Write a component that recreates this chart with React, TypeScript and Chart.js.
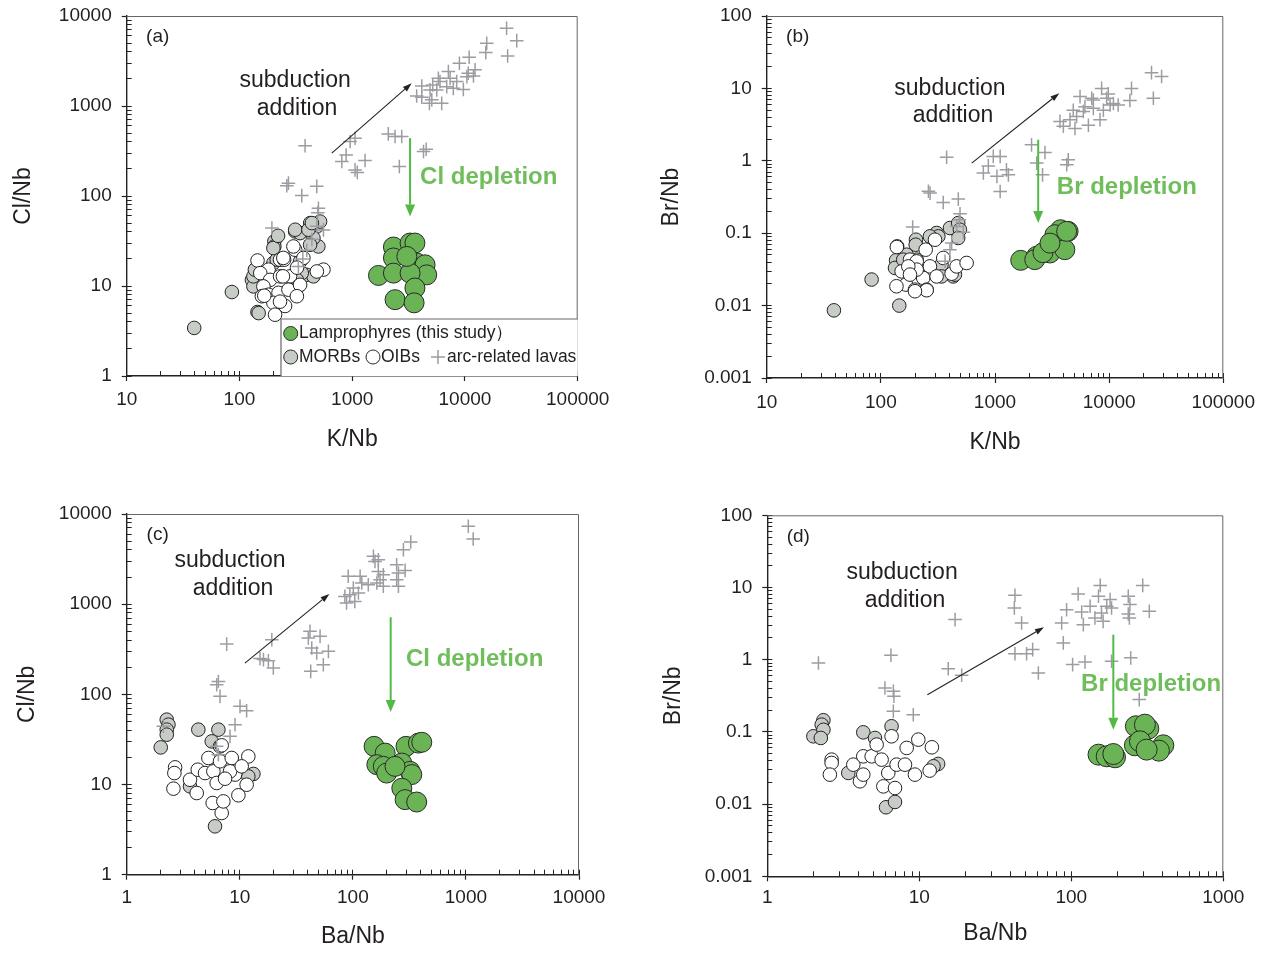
import React, { useEffect, useRef } from 'react';
import { Chart, registerables } from 'chart.js';

Chart.register(...registerables);

const FONT = "'Liberation Sans', Arial, Helvetica, sans-serif";

type P = [number, number];

// ---------- tick labels ----------
const kNbTicks = [10, 100, 1000, 10000, 100000];
const baNbTicksC = [1, 10, 100, 1000, 10000];
const baNbTicksD = [1, 10, 100, 1000];
const clNbTicks = [1, 10, 100, 1000, 10000];
const brNbTicks = [0.001, 0.01, 0.1, 1, 10, 100];

// ---------- panel (a): K/Nb vs Cl/Nb ----------
const lampA: P[] = [[2320, 27.1], [3260, 30], [3600, 30], [2320, 20.5], [3740, 18], [4430, 17.2], [4580, 13.3], [1710, 13.1], [2320, 13.9], [3260, 13.9], [3600, 9.5], [2400, 7.05], [3540, 6.5], [3050, 21.3]];
const morbA: P[] = [[39.7, 3.42], [85.7, 8.57], [144.6, 5.14], [204, 31.3], [204, 27.5], [312, 40.4], [345, 38.7], [424, 50], [486, 45.9], [519, 52], [501, 27.5], [453, 34.1], [138, 14.5], [129, 11.7], [133, 9.9], [200, 18], [214, 19.6], [395, 13.3], [453, 12.8], [357, 13.9], [175, 12.8], [323, 11.7], [148, 5.0], [200, 26.4], [312, 42.2], [409, 42.2], [439, 50], [133, 12.8], [137, 15.2], [344, 18.6], [220, 36.1], [423, 28.7]];
const oibA: P[] = [[144.6, 19.2], [181, 15.2], [153, 13.9], [229, 19.6], [249, 19.6], [312, 25.3], [369, 20.5], [556, 15.2], [486, 14.5], [187, 11.7], [229, 12.8], [281, 12.8], [333, 9.9], [163, 9.9], [181, 8.0], [222, 8.4], [272, 9.1], [158, 7.7], [200, 6.5], [254, 6.0], [207, 4.8], [229, 6.7], [245, 20.5], [301, 27.5], [345, 10.3], [323, 7.7], [166, 7.8], [243, 12.8], [324, 16]];
const arcA: P[] = [[23400, 7300], [28800, 5320], [23900, 3600], [15600, 4980], [15300, 3920], [10900, 3480], [8930, 2980], [12300, 2520], [11900, 2160], [10400, 2120], [7130, 2410], [7380, 2030], [5810, 2030], [6010, 1870], [5180, 1710], [4910, 1510], [4140, 1670], [3730, 1290], [4140, 1250], [5080, 1170], [6220, 1070], [7890, 1570], [8450, 1870], [9680, 1530], [6890, 1640], [5620, 1510], [4840, 1070], [10700, 2310], [2090, 490], [2400, 458], [2750, 458], [4290, 312], [4530, 331], [2620, 213], [1060, 439], [959, 403], [883, 286], [809, 242], [1300, 248], [1060, 195], [1110, 183], [382, 361], [272, 139], [263, 130], [485, 128], [357, 101], [502, 73], [495, 65], [194, 44], [485, 46], [556, 42], [439, 33], [395, 25], [365, 20], [333, 16.5]];

// ---------- panel (b): K/Nb vs Br/Nb ----------
const lampB: P[] = [[1680, 0.0422], [2310, 0.0479], [2230, 0.0431], [3570, 0.0646], [3750, 0.1117], [4370, 0.106], [3350, 0.0953], [3030, 0.0533], [4090, 0.0592], [2630, 0.0538], [3030, 0.073], [4240, 0.106]];
const morbB: P[] = [[38.8, 0.0086], [83, 0.0229], [145, 0.01], [203, 0.0813], [202, 0.0693], [136, 0.0422], [133, 0.0331], [308, 0.1007], [319, 0.0904], [403, 0.118], [476, 0.138], [493, 0.1117], [476, 0.0859], [430, 0.0253], [446, 0.0268], [340, 0.0368], [206, 0.0431], [168, 0.0505], [157, 0.0431], [269, 0.0904], [340, 0.0253]];
const oibB: P[] = [[139, 0.0658], [180, 0.0431], [152, 0.0297], [206, 0.0408], [247, 0.0592], [298, 0.0813], [269, 0.0348], [235, 0.0241], [166, 0.0195], [199, 0.0166], [252, 0.0166], [206, 0.0314], [417, 0.0276], [461, 0.0348], [564, 0.0388], [352, 0.0455], [174, 0.0348], [137, 0.0185], [308, 0.0253], [180, 0.0268], [138, 0.0644], [252, 0.0163], [199, 0.0158]];
const arcB: P[] = [[23500, 16.5], [28800, 14.6], [24400, 7.3], [15700, 10], [15200, 6.8], [8590, 10], [9830, 8.4], [10900, 6.2], [12000, 5.9], [5560, 7.7], [7030, 7.3], [7270, 5.3], [5940, 4.8], [4850, 5.0], [5190, 4.1], [4540, 3.7], [3710, 3.5], [3970, 3.0], [5020, 2.8], [6580, 3.1], [8320, 3.7], [8900, 5.0], [10200, 5.9], [9500, 7.3], [6140, 5.6], [7270, 6.9], [2090, 1.66], [2740, 1.30], [2320, 0.93], [2610, 0.64], [4380, 1.03], [4250, 0.88], [377, 1.12], [966, 1.15], [1110, 1.15], [874, 0.85], [791, 0.68], [1260, 0.75], [1310, 0.64], [1040, 0.61], [1110, 0.377], [261, 0.38], [270, 0.358], [352, 0.266], [477, 0.296], [494, 0.186], [487, 0.153], [190, 0.122], [461, 0.124], [528, 0.103], [417, 0.073], [403, 0.059], [365, 0.041]];

// ---------- panel (c): Ba/Nb vs Cl/Nb ----------
const lampC: P[] = [[154, 26.5], [193, 22.3], [295, 26.5], [380, 28.8], [407, 29.4], [163, 16.6], [186, 15.9], [199, 13.4], [271, 17.3], [321, 14.0], [332, 12.9], [271, 9.1], [290, 6.8], [367, 6.4], [236, 15.9]];
const morbC: P[] = [[2.26, 52.4], [2.34, 46.1], [2.26, 40.6], [2.26, 35.7], [2.0, 25.8], [4.30, 40.6], [6.47, 40.6], [5.65, 30.1], [6.69, 26.5], [6.04, 3.44], [13.2, 13.1], [11.9, 12.3], [3.63, 9.55]];
const oibC: P[] = [[2.68, 15.5], [2.64, 13.4], [2.59, 9.0], [3.63, 11.3], [4.16, 8.05], [4.25, 14.6], [5.28, 19.7], [4.93, 13.4], [5.84, 14.0], [6.25, 10.4], [5.76, 6.24], [6.92, 4.83], [7.16, 6.5], [6.69, 18.1], [8.49, 19.7], [11.9, 20.5], [9.08, 12.9], [11.5, 9.95], [9.72, 7.6], [8.2, 14.0], [7.41, 11.6], [6.92, 27.2], [10.4, 15.9]];
const arcC: P[] = [[1050, 7300], [1160, 5290], [325, 4890], [280, 4020], [152, 3390], [157, 2980], [168, 3110], [244, 2740], [290, 2370], [253, 2220], [244, 1870], [253, 1580], [186, 2120], [168, 2310], [174, 1870], [163, 1720], [186, 1580], [137, 1640], [120, 1720], [116, 2040], [91, 2040], [101, 1510], [112, 1330], [94, 1270], [85, 1220], [104, 1070], [88, 1030], [41.8, 500], [51.3, 440], [40.4, 421], [43.3, 327], [60.8, 300], [47.9, 287], [54.8, 213], [42.4, 180], [19.2, 403], [7.66, 361], [16.2, 243], [17.9, 236], [19.8, 196], [15.1, 249], [6.25, 128], [6.47, 139], [6.69, 95], [10.05, 73.6], [11.5, 65.9], [9.08, 46.1], [8.2, 34.2], [6.25, 26.5], [6.47, 21.4], [2.11, 44.2]];

// ---------- panel (d): Ba/Nb vs Br/Nb ----------
const lampD: P[] = [[151, 0.0484], [171, 0.0459], [194, 0.0445], [189, 0.0494], [266, 0.1197], [321, 0.111], [305, 0.126], [262, 0.0652], [283, 0.0741], [403, 0.0652], [377, 0.055], [313, 0.0568]];
const morbD: P[] = [[2.34, 0.145], [2.28, 0.126], [2.01, 0.0869], [2.34, 0.107], [2.25, 0.0824], [4.28, 0.0986], [6.04, 0.00904], [6.92, 0.0107], [6.57, 0.1197], [13.3, 0.036], [12.4, 0.0334], [3.41, 0.027], [5.11, 0.0824]];
const oibD: P[] = [[2.65, 0.0413], [2.65, 0.0372], [2.58, 0.0256], [3.68, 0.0352], [4.07, 0.0207], [4.28, 0.0256], [4.28, 0.0459], [4.86, 0.0459], [5.24, 0.0667], [5.65, 0.0413], [6.25, 0.027], [5.8, 0.0176], [6.92, 0.0167], [7.09, 0.0352], [6.57, 0.0869], [8.05, 0.0352], [9.36, 0.0256], [9.85, 0.0782], [11.7, 0.0291], [12.1, 0.0612], [8.26, 0.06]];
const arcD: P[] = [[2.17, 0.90], [6.51, 1.15], [5.94, 0.406], [6.75, 0.365], [6.81, 0.311], [6.75, 0.193], [9.13, 0.173], [15.5, 0.751], [19.0, 0.608], [17.2, 3.59], [42.6, 7.8], [42.2, 5.21], [47.1, 3.23], [42.6, 1.21], [50.8, 1.21], [55.7, 1.38], [60.7, 0.655], [86.4, 3.23], [88.6, 1.71], [102, 0.855], [123, 0.931], [93.1, 4.93], [111, 8.13], [117, 4.58], [120, 3.06], [133, 5.5], [143, 3.78], [155, 10.7], [151, 7.55], [158, 4.44], [171, 5.5], [180, 6.8], [184, 5.21], [162, 3.40], [237, 7.55], [243, 5.8], [237, 4.30], [241, 3.78], [295, 10.7], [326, 4.68], [246, 1.06], [184, 0.95], [280, 0.280]];

// ---------- annotation anchors (data coordinates) ----------
const subductionArrowA: P[] = [[659, 299], [3370, 1790]];
const depletionArrowA: P[] = [[3260, 440], [3260, 59]];
const subductionArrowB: P[] = [[625, 0.93], [3660, 8.6]];
const depletionArrowB: P[] = [[2390, 1.95], [2390, 0.138]];
const subductionArrowC: P[] = [[11.1, 222], [62, 1300]];
const depletionArrowC: P[] = [[216, 716], [216, 63.8]];
const subductionArrowD: P[] = [[11.3, 0.328], [66.1, 2.81]];
const depletionArrowD: P[] = [[189, 2.22], [189, 0.107]];

// ---------- styles ----------
const GREEN = '#6bb456';
const GREEN_TEXT = '#70bd5c';
const GREEN_ARROW = '#52b947';
const MORB_FILL = '#c7ccc7';
const CROSS = '#9c9ca2';
const INK = '#231f20';

type TextItem = { text: string; at: P; align: CanvasTextAlign; font: string; color: string };
type Spec = {
  left: number; top: number; w: number; h: number;
  yW: number; xH: number; padTop: number; padRight: number;
  xMin: number; xMax: number; yMin: number; yMax: number;
  xTicks: number[]; yTicks: number[]; xTitle: string; yTitle: string;
  xLabelPad: number; yLabelPad: number; xTitlePad: number; yTitlePad: number;
  lamp: P[]; morb: P[]; oib: P[]; arc: P[]; lampR: number;
  label: string; upArrow: P[]; downArrow: P[]; texts: TextItem[]; legend: boolean;
};

const SUB_FONT = `23px ${FONT}`;
const DEP_FONT = `bold 24px ${FONT}`;

function txt(text: string, at: P, align: CanvasTextAlign, font: string, color: string): TextItem {
  return { text, at, align, font, color };
}

const specs: Spec[] = [
  {
    left: 0, top: 0, w: 635, h: 476, yW: 126.7, xH: 100, padTop: 16, padRight: 57.3,
    xMin: 10, xMax: 100000, yMin: 1, yMax: 10000, xTicks: kNbTicks, yTicks: clNbTicks,
    xTitle: 'K/Nb', yTitle: 'Cl/Nb', xLabelPad: 7.6, yLabelPad: 10, xTitlePad: 22.2, yTitlePad: 10.2,
    lamp: lampA, morb: morbA, oib: oibA, arc: arcA, lampR: 10,
    label: '(a)', upArrow: subductionArrowA, downArrow: depletionArrowA,
    texts: [
      txt('subduction', [312, 1900], 'center', SUB_FONT, INK),
      txt('addition', [324, 929], 'center', SUB_FONT, INK),
      txt('Cl depletion', [4000, 159], 'left', DEP_FONT, GREEN_TEXT),
    ],
    legend: true,
  },
  {
    left: 635, top: 0, w: 635, h: 476, yW: 131.7, xH: 98, padTop: 16, padRight: 46.7,
    xMin: 10, xMax: 100000, yMin: 0.001, yMax: 100, xTicks: kNbTicks, yTicks: brNbTicks,
    xTitle: 'K/Nb', yTitle: 'Br/Nb', xLabelPad: 8.6, yLabelPad: 10, xTitlePad: 19.2, yTitlePad: 23.2,
    lamp: lampB, morb: morbB, oib: oibB, arc: arcB, lampR: 10,
    label: '(b)', upArrow: subductionArrowB, downArrow: depletionArrowB,
    texts: [
      txt('subduction', [403, 9.8], 'center', SUB_FONT, INK),
      txt('addition', [428, 4.2], 'center', SUB_FONT, INK),
      txt('Br depletion', [3480, 0.425], 'left', DEP_FONT, GREEN_TEXT),
    ],
    legend: false,
  },
  {
    left: 0, top: 476, w: 635, h: 477, yW: 126.7, xH: 78.3, padTop: 38, padRight: 56,
    xMin: 1, xMax: 10000, yMin: 1, yMax: 10000, xTicks: baNbTicksC, yTicks: clNbTicks,
    xTitle: 'Ba/Nb', yTitle: 'Cl/Nb', xLabelPad: 6.9, yLabelPad: 10, xTitlePad: 2.2, yTitlePad: 14.2,
    lamp: lampC, morb: morbC, oib: oibC, arc: arcC, lampR: 10,
    label: '(c)', upArrow: subductionArrowC, downArrow: depletionArrowC,
    texts: [
      txt('subduction', [8.2, 3010], 'center', SUB_FONT, INK),
      txt('addition', [8.7, 1475], 'center', SUB_FONT, INK),
      txt('Cl depletion', [295, 247], 'left', DEP_FONT, GREEN_TEXT),
    ],
    legend: false,
  },
  {
    left: 635, top: 476, w: 635, h: 477, yW: 132.3, xH: 76.7, padTop: 39.3, padRight: 46.7,
    xMin: 1, xMax: 1000, yMin: 0.001, yMax: 100, xTicks: baNbTicksD, yTicks: brNbTicks,
    xTitle: 'Ba/Nb', yTitle: 'Br/Nb', xLabelPad: 5.3, yLabelPad: 10, xTitlePad: 5.2, yTitlePad: 25.2,
    lamp: lampD, morb: morbD, oib: oibD, arc: arcD, lampR: 10.5,
    label: '(d)', upArrow: subductionArrowD, downArrow: depletionArrowD,
    texts: [
      txt('subduction', [7.7, 15.9], 'center', SUB_FONT, INK),
      txt('addition', [8.05, 6.5], 'center', SUB_FONT, INK),
      txt('Br depletion', [116, 0.46], 'left', DEP_FONT, GREEN_TEXT),
    ],
    legend: false,
  },
];

function minorTicks(majors: number[]): number[] {
  const out: number[] = [];
  for (let i = 0; i < majors.length - 1; i++) {
    for (let k = 1; k <= 9; k++) out.push(majors[i] * k);
  }
  out.push(majors[majors.length - 1]);
  return out;
}

const toPts = (arr: P[]) => arr.map(([x, y]) => ({ x, y }));

function drawArrow(ctx: CanvasRenderingContext2D, x1: number, y1: number, x2: number, y2: number,
  color: string, width: number, headLen: number, headW: number) {
  const ang = Math.atan2(y2 - y1, x2 - x1);
  const bx = x2 - headLen * Math.cos(ang);
  const by = y2 - headLen * Math.sin(ang);
  ctx.strokeStyle = color;
  ctx.lineWidth = width;
  ctx.beginPath();
  ctx.moveTo(x1, y1);
  ctx.lineTo(bx, by);
  ctx.stroke();
  ctx.fillStyle = color;
  ctx.beginPath();
  ctx.moveTo(x2, y2);
  ctx.lineTo(bx + (headW / 2) * Math.sin(ang), by - (headW / 2) * Math.cos(ang));
  ctx.lineTo(bx - (headW / 2) * Math.sin(ang), by + (headW / 2) * Math.cos(ang));
  ctx.closePath();
  ctx.fill();
}

function circle(ctx: CanvasRenderingContext2D, x: number, y: number, r: number, fill: string) {
  ctx.beginPath();
  ctx.arc(x, y, r, 0, Math.PI * 2);
  ctx.fillStyle = fill;
  ctx.fill();
  ctx.lineWidth = 1;
  ctx.strokeStyle = '#2a2a2a';
  ctx.stroke();
}

function makeDecor(spec: Spec) {
  return {
    id: 'decor',
    beforeDatasetsDraw(chart: any) {
      const { ctx, chartArea: ca } = chart;
      ctx.save();
      ctx.strokeStyle = '#666';
      ctx.lineWidth = 1;
      ctx.beginPath();
      ctx.moveTo(ca.left, ca.top + 0.5);
      ctx.lineTo(ca.right - 0.5, ca.top + 0.5);
      ctx.lineTo(ca.right - 0.5, ca.bottom);
      ctx.stroke();
      ctx.restore();
    },
    afterDatasetsDraw(chart: any) {
      const { ctx, chartArea: ca, scales } = chart;
      const px = (v: number) => scales.x.getPixelForValue(v);
      const py = (v: number) => scales.y.getPixelForValue(v);
      ctx.save();
      // panel label
      ctx.font = `19px ${FONT}`;
      ctx.fillStyle = INK;
      ctx.textAlign = 'center';
      ctx.textBaseline = 'middle';
      ctx.fillText(spec.label, ca.left + 31, ca.top + 21);
      // arrows
      const [u0, u1] = spec.upArrow;
      drawArrow(ctx, px(u0[0]), py(u0[1]), px(u1[0]), py(u1[1]), '#222', 1.1, 9, 6);
      const [d0, d1] = spec.downArrow;
      drawArrow(ctx, px(d0[0]), py(d0[1]), px(d1[0]), py(d1[1]), GREEN_ARROW, 2, 12, 10);
      // texts
      for (const t of spec.texts) {
        ctx.font = t.font;
        ctx.fillStyle = t.color;
        ctx.textAlign = t.align;
        ctx.textBaseline = 'middle';
        ctx.fillText(t.text, px(t.at[0]), py(t.at[1]));
      }
      // legend
      if (spec.legend) {
        const L = ca.left + 154.3;
        const R = ca.right;
        const B = ca.bottom;
        const T = B - 57;
        ctx.fillStyle = '#fff';
        ctx.fillRect(L, T, R - L, B - T);
        ctx.strokeStyle = '#666';
        ctx.lineWidth = 1.2;
        ctx.beginPath();
        ctx.moveTo(L, B);
        ctx.lineTo(L, T);
        ctx.lineTo(R, T);
        ctx.stroke();
        const r1 = B - 42.5;
        const r2 = B - 19;
        ctx.font = `17.5px ${FONT}`;
        ctx.textAlign = 'left';
        ctx.textBaseline = 'middle';
        circle(ctx, L + 9.7, r1, 7, GREEN);
        ctx.fillStyle = INK;
        ctx.fillText('Lamprophyres (this study\uFF09', L + 18, r1);
        circle(ctx, L + 9.7, r2, 7, MORB_FILL);
        ctx.fillStyle = INK;
        ctx.fillText('MORBs', L + 18, r2);
        circle(ctx, L + 92, r2, 7, '#fff');
        ctx.fillStyle = INK;
        ctx.fillText('OIBs', L + 100, r2);
        ctx.strokeStyle = CROSS;
        ctx.lineWidth = 1.5;
        ctx.beginPath();
        ctx.moveTo(L + 150, r2);
        ctx.lineTo(L + 164, r2);
        ctx.moveTo(L + 157, r2 - 7);
        ctx.lineTo(L + 157, r2 + 7);
        ctx.stroke();
        ctx.fillStyle = INK;
        ctx.fillText('arc-related lavas', L + 166, r2);
      }
      ctx.restore();
    },
  };
}

function fixHeight(h: number) {
  return (s: any) => {
    s.height = h;
    s.paddingLeft = 0;
    s.paddingRight = 0;
    s.paddingTop = 0;
    s.paddingBottom = 0;
  };
}
function fixWidth(w: number) {
  return (s: any) => {
    s.width = w;
    s.paddingLeft = 0;
    s.paddingRight = 0;
    s.paddingTop = 0;
    s.paddingBottom = 0;
  };
}

function makeConfig(spec: Spec): any {
  const tickFont = { family: FONT, size: 19 };
  const titleFont = { family: FONT, size: 23 };
  const xMinor = minorTicks(spec.xTicks);
  const yMinor = minorTicks(spec.yTicks);
  return {
    type: 'scatter',
    data: {
      datasets: [
        {
          label: 'Lamprophyres (this study)', data: toPts(spec.lamp), xAxisID: 'x', yAxisID: 'y',
          pointRadius: spec.lampR, backgroundColor: GREEN, borderColor: '#2a2a2a', borderWidth: 1,
        },
        {
          label: 'arc-related lavas', data: toPts(spec.arc), xAxisID: 'x', yAxisID: 'y',
          pointStyle: 'cross', pointRadius: 6.8, backgroundColor: CROSS, borderColor: CROSS, borderWidth: 1.5,
        },
        {
          label: 'OIBs', data: toPts(spec.oib), xAxisID: 'x', yAxisID: 'y',
          pointRadius: 6.8, backgroundColor: '#ffffff', borderColor: '#222', borderWidth: 1,
        },
        {
          label: 'MORBs', data: toPts(spec.morb), xAxisID: 'x', yAxisID: 'y',
          pointRadius: 6.8, backgroundColor: MORB_FILL, borderColor: '#222', borderWidth: 1,
        },
      ],
    },
    options: {
      responsive: false,
      animation: false,
      events: [],
      layout: { padding: { top: spec.padTop, right: spec.padRight, left: 0, bottom: 0 } },
      plugins: { legend: { display: false }, tooltip: { enabled: false } },
      scales: {
        x: {
          type: 'logarithmic', position: 'bottom', weight: 1, min: spec.xMin, max: spec.xMax,
          afterBuildTicks: (s: any) => { s.ticks = spec.xTicks.map((v) => ({ value: v, major: true })); },
          afterFit: fixHeight(spec.xH),
          ticks: {
            autoSkip: false, maxRotation: 0, minRotation: 0, padding: spec.xLabelPad,
            font: tickFont, color: INK, callback: (v: any) => String(v),
          },
          grid: { display: true, drawOnChartArea: false, drawTicks: true, tickLength: 5, tickColor: '#222', tickWidth: 1.2 },
          border: { display: true, color: '#222', width: 1.4 },
          title: { display: true, text: spec.xTitle, font: titleFont, color: INK, padding: { top: 0, bottom: spec.xTitlePad } },
        },
        xm: {
          type: 'logarithmic', position: 'bottom', weight: 0, min: spec.xMin, max: spec.xMax,
          afterBuildTicks: (s: any) => { s.ticks = xMinor.map((v) => ({ value: v })); },
          afterFit: fixHeight(0),
          ticks: { display: false, autoSkip: false, maxRotation: 0, minRotation: 0 },
          grid: { display: true, drawOnChartArea: false, drawTicks: true, tickLength: -5, tickColor: '#222', tickWidth: 1 },
          border: { display: false },
        },
        y: {
          type: 'logarithmic', position: 'left', weight: 1, min: spec.yMin, max: spec.yMax,
          afterBuildTicks: (s: any) => { s.ticks = spec.yTicks.map((v) => ({ value: v, major: true })); },
          afterFit: fixWidth(spec.yW),
          ticks: {
            autoSkip: false, padding: spec.yLabelPad, font: tickFont, color: INK,
            callback: (v: any) => String(v),
          },
          grid: { display: true, drawOnChartArea: false, drawTicks: true, tickLength: 5, tickColor: '#222', tickWidth: 1.2 },
          border: { display: true, color: '#222', width: 1.4 },
          title: { display: true, text: spec.yTitle, font: titleFont, color: INK, padding: { top: spec.yTitlePad, bottom: 0 } },
        },
        ym: {
          type: 'logarithmic', position: 'left', weight: 0, min: spec.yMin, max: spec.yMax,
          afterBuildTicks: (s: any) => { s.ticks = yMinor.map((v) => ({ value: v })); },
          afterFit: fixWidth(0),
          ticks: { display: false, autoSkip: false },
          grid: { display: true, drawOnChartArea: false, drawTicks: true, tickLength: -5, tickColor: '#222', tickWidth: 1 },
          border: { display: false },
        },
      },
    },
    plugins: [makeDecor(spec)],
  };
}

function Panel({ spec }: { spec: Spec }) {
  const ref = useRef<HTMLCanvasElement | null>(null);
  useEffect(() => {
    if (!ref.current) return;
    const chart = new Chart(ref.current, makeConfig(spec));
    return () => chart.destroy();
  }, [spec]);
  return (
    <canvas
      ref={ref}
      width={spec.w}
      height={spec.h}
      style={{ position: 'absolute', left: spec.left, top: spec.top, width: spec.w, height: spec.h }}
    />
  );
}

export default function App() {
  return (
    <div style={{ position: 'absolute', left: 0, top: 0, width: 1270, height: 953, background: '#fff' }}>
      {specs.map((s, i) => (
        <Panel key={i} spec={s} />
      ))}
    </div>
  );
}
